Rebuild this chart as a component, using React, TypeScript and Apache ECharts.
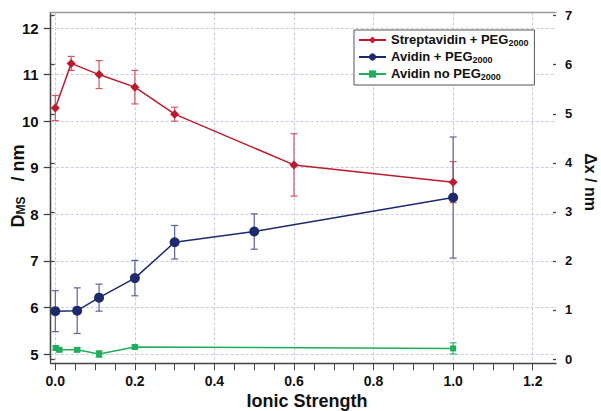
import React, { useEffect, useRef } from 'react';
import * as echarts from 'echarts';

// ---- data ----
const strepX = [0, 0.04, 0.11, 0.2, 0.3, 0.6, 1.0];
const strepY = [10.28, 11.24, 11.0, 10.73, 10.15, 9.06, 8.69];
const strepErr = [0.27, 0.15, 0.3, 0.36, 0.15, 0.67, 0.44];

const avidX = [0, 0.055, 0.11, 0.2, 0.3, 0.5, 1.0];
const avidY = [5.92, 5.93, 6.21, 6.63, 7.4, 7.63, 8.36];
const avidErr = [0.44, 0.49, 0.29, 0.38, 0.36, 0.38, 1.3];

const noPegX = [0.001, 0.01, 0.055, 0.11, 0.2, 1.0];
const noPegY = [5.13, 5.09, 5.09, 5.0, 5.15, 5.12];
const noPegErr = [0.04, 0.04, 0.04, 0.07, 0.04, 0.12];

const seriesNames = ['Streptavidin + PEG2000', 'Avidin + PEG2000', 'Avidin no PEG2000'];
const legendLabels = ['Streptavidin + PEG', 'Avidin + PEG', 'Avidin no PEG'];
const legendSub = '2000';

const FONT = '"Liberation Sans", Arial, Helvetica, sans-serif';
const RED = '#bd1a2e';
const RED_ERR = '#d45662';
const BLUE = '#1d2a6c';
const BLUE_ERR = '#5c6396';
const GREEN = '#1fae5b';
const GREEN_ERR = '#3dbb70';
const GRID_LINE = '#c9c9e6';
const AXIS = '#444';

// layout
const L = 50.7, R = 556, T = 12.3, B = 363.3;
const X0 = 55.3, X12 = 532.7;
const Y12 = 28, Y5 = 354;
const RT = 15.7, RB = 359;

function errRender(color: string) {
  return (params: any, api: any) => {
    const x = api.value(0);
    const lo = api.value(1);
    const hi = api.value(2);
    const p1 = api.coord([x, hi]);
    const p2 = api.coord([x, lo]);
    const w = 3.5;
    const style = { stroke: color, lineWidth: 1.2 };
    return {
      type: 'group',
      children: [
        { type: 'line', shape: { x1: p1[0], y1: p1[1], x2: p2[0], y2: p2[1] }, style },
        { type: 'line', shape: { x1: p1[0] - w, y1: p1[1], x2: p1[0] + w, y2: p1[1] }, style },
        { type: 'line', shape: { x1: p2[0] - w, y1: p2[1], x2: p2[0] + w, y2: p2[1] }, style },
      ],
    };
  };
}

function errData(xs: number[], ys: number[], es: number[]) {
  return xs.map((x, i) => [x, ys[i] - es[i], ys[i] + es[i]]);
}

function pts(xs: number[], ys: number[]) {
  return xs.map((x, i) => [x, ys[i]]);
}

const hiddenAxis = (gridIndex: number, min: number, max: number) => ({
  type: 'value', gridIndex, min, max, show: false,
});

export default function App() {
  const ref = useRef<HTMLDivElement>(null);
  useEffect(() => {
    if (!ref.current) return;
    const chart = echarts.init(ref.current, null, { renderer: 'svg' });
    const labelStyle = { fontFamily: FONT, fontWeight: 'bold', color: '#111' };
    const option: any = {
      animation: false,
      backgroundColor: '#fff',
      grid: [
        { left: L, top: T, width: R - L, height: B - T },
        { left: L, top: Y12, width: R - L, height: Y5 - Y12 },
        { left: X0, top: T, width: X12 - X0, height: B - T },
        { left: X0, top: Y12, width: X12 - X0, height: Y5 - Y12 },
        { left: L, top: RT, width: R - L, height: RB - RT },
      ],
      xAxis: [
        {
          type: 'value', gridIndex: 0, min: 0, max: 1, position: 'bottom',
          axisLine: { show: true, lineStyle: { color: AXIS, width: 1.3 } },
          axisTick: { show: false }, axisLabel: { show: false }, splitLine: { show: false },
        },
        {
          type: 'value', gridIndex: 0, min: 0, max: 1, position: 'top',
          axisLine: { show: true, lineStyle: { color: '#999', width: 1.3 } },
          axisTick: { show: false }, axisLabel: { show: false }, splitLine: { show: false },
        },
        hiddenAxis(1, 0, 1),
        {
          type: 'value', gridIndex: 2, min: 0, max: 1.2, interval: 0.2, position: 'bottom',
          axisLine: { show: false },
          axisTick: { show: true, length: 7, lineStyle: { color: AXIS, width: 1 } },
          minorTick: { show: true, splitNumber: 4, length: 7, lineStyle: { color: AXIS, width: 1 } },
          axisLabel: { ...labelStyle, fontSize: 14, margin: 11, formatter: (v: number) => v.toFixed(1) },
          splitLine: { show: true, lineStyle: { color: GRID_LINE, width: 1, type: [3, 2] } },
        },
        hiddenAxis(3, 0, 1.2),
        hiddenAxis(4, 0, 1),
      ],
      yAxis: [
        {
          type: 'value', gridIndex: 0, min: 0, max: 1, position: 'left',
          axisLine: { show: true, lineStyle: { color: AXIS, width: 1.3 } },
          axisTick: { show: false }, axisLabel: { show: false }, splitLine: { show: false },
        },
        {
          type: 'value', gridIndex: 1, min: 5, max: 12, interval: 1, position: 'left',
          axisLine: { show: false },
          axisTick: { show: true, length: 7, lineStyle: { color: AXIS, width: 1.3 } },
          axisLabel: { ...labelStyle, fontSize: 15, margin: 12 },
          splitLine: { show: true, lineStyle: { color: GRID_LINE, width: 1, type: [3, 2] } },
        },
        hiddenAxis(2, 0, 1),
        hiddenAxis(3, 5, 12),
        {
          type: 'value', gridIndex: 4, min: 0, max: 7, interval: 1, position: 'right',
          axisLine: { show: true, lineStyle: { color: AXIS, width: 1.3 } },
          axisTick: { show: true, length: 4, lineStyle: { color: AXIS, width: 1.3 } },
          axisLabel: { ...labelStyle, fontSize: 13, margin: 9 },
          splitLine: { show: false },
        },
        {
          type: 'value', gridIndex: 4, min: 0, max: 7, interval: 1, position: 'right',
          axisLine: { show: false },
          axisTick: { show: true, inside: true, length: 3, lineStyle: { color: AXIS, width: 1.3 } },
          axisLabel: { show: false },
          splitLine: { show: false },
        },
      ],
      legend: {
        show: true,
        orient: 'vertical',
        left: 354,
        top: 30,
        padding: [1, 6, 4, 4],
        itemWidth: 27,
        itemHeight: 9,
        itemGap: 1,
        borderColor: '#555',
        borderWidth: 1,
        backgroundColor: '#fff',
        data: seriesNames,
        formatter: (name: string) => {
          const i = seriesNames.indexOf(name);
          return `{b|${legendLabels[i]}}{s|${legendSub}}`;
        },
        textStyle: {
          fontFamily: FONT,
          fontWeight: 'bold',
          fontSize: 13,
          color: '#111',
          rich: {
            b: { fontFamily: FONT, fontWeight: 'bold', fontSize: 13, lineHeight: 14, verticalAlign: 'top', color: '#111' },
            s: { fontFamily: FONT, fontWeight: 'bold', fontSize: 9, lineHeight: 10, padding: [7, 0, 0, 0], verticalAlign: 'bottom', color: '#111' },
          },
        },
      },
      graphic: [
        {
          type: 'text',
          x: 17.5,
          y: 186,
          rotation: Math.PI / 2,
          style: {
            text: '{a|D}{s|MS}{a|   / nm}',
            align: 'center',
            verticalAlign: 'middle',
            rich: {
              a: { fontFamily: FONT, fontWeight: 'bold', fontSize: 18, lineHeight: 18, verticalAlign: 'top', fill: '#111' },
              s: { fontFamily: FONT, fontWeight: 'bold', fontSize: 12, lineHeight: 12, padding: [10, 0, 0, 0], verticalAlign: 'bottom', fill: '#111' },
            },
          },
        },
        {
          type: 'text',
          x: 590,
          y: 182,
          rotation: -Math.PI / 2,
          style: {
            text: 'Δx / nm',
            align: 'center',
            verticalAlign: 'middle',
            fontFamily: FONT,
            fontWeight: 'bold',
            fontSize: 16,
            fill: '#111',
          },
        },
        {
          type: 'text',
          x: 307,
          y: 401,
          style: {
            text: 'Ionic Strength',
            align: 'center',
            verticalAlign: 'middle',
            fontFamily: FONT,
            fontWeight: 'bold',
            fontSize: 18,
            fill: '#111',
          },
        },
      ],
      series: [
        {
          type: 'custom', name: 'err-strep', xAxisIndex: 4, yAxisIndex: 3,
          renderItem: errRender(RED_ERR), encode: { x: 0, y: [1, 2] },
          data: errData(strepX, strepY, strepErr), z: 2, silent: true,
        },
        {
          type: 'custom', name: 'err-avid', xAxisIndex: 4, yAxisIndex: 3,
          renderItem: errRender(BLUE_ERR), encode: { x: 0, y: [1, 2] },
          data: errData(avidX, avidY, avidErr), z: 2, silent: true,
        },
        {
          type: 'custom', name: 'err-nopeg', xAxisIndex: 4, yAxisIndex: 3,
          renderItem: errRender(GREEN_ERR), encode: { x: 0, y: [1, 2] },
          data: errData(noPegX, noPegY, noPegErr), z: 2, silent: true,
        },
        {
          type: 'line', name: seriesNames[0], xAxisIndex: 4, yAxisIndex: 3,
          data: pts(strepX, strepY), symbol: 'diamond', symbolSize: 9, showAllSymbol: true,
          lineStyle: { color: RED, width: 1.5 }, itemStyle: { color: RED }, z: 3,
        },
        {
          type: 'line', name: seriesNames[1], xAxisIndex: 4, yAxisIndex: 3,
          data: pts(avidX, avidY), symbol: 'circle', symbolSize: 10, showAllSymbol: true,
          lineStyle: { color: BLUE, width: 1.5 }, itemStyle: { color: BLUE }, z: 3,
        },
        {
          type: 'line', name: seriesNames[2], xAxisIndex: 4, yAxisIndex: 3,
          data: pts(noPegX, noPegY), symbol: 'rect', symbolSize: 6, showAllSymbol: true,
          lineStyle: { color: GREEN, width: 1.5 }, itemStyle: { color: GREEN }, z: 3,
        },
      ],
    };
    chart.setOption(option);
    return () => chart.dispose();
  }, []);
  return (
    <div
      ref={ref}
      style={{ position: 'fixed', left: 0, top: 0, width: 601, height: 411 }}
    />
  );
}
